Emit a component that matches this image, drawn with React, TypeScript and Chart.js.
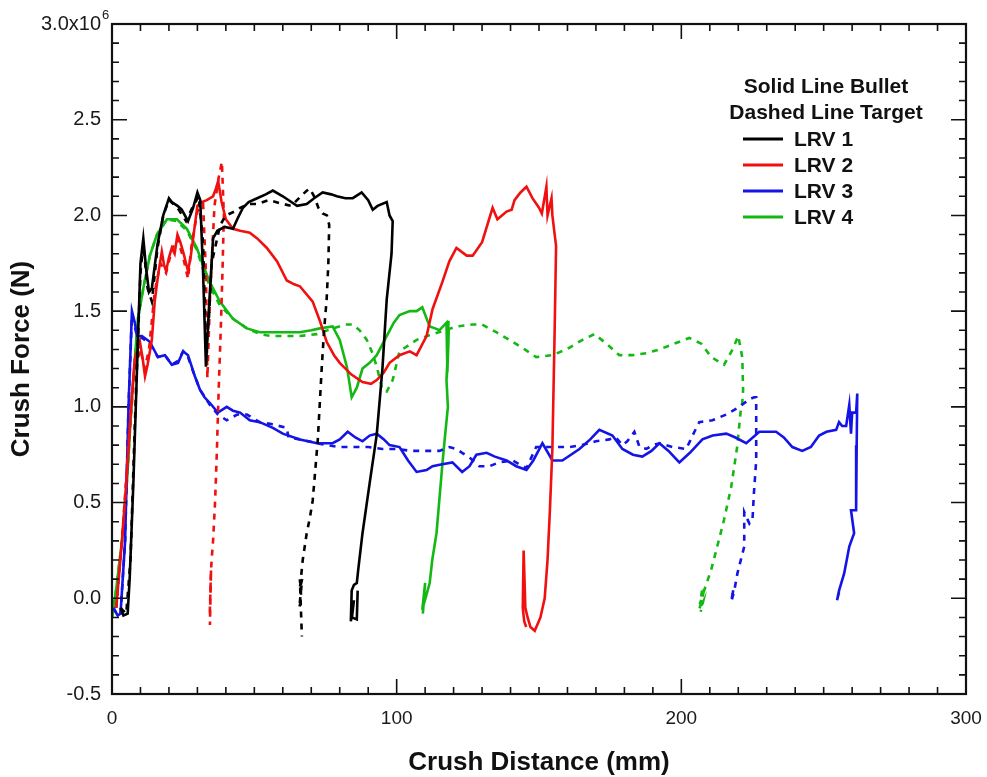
import React, { useEffect, useRef } from "react";
import { Chart, registerables } from "chart.js";

Chart.register(...registerables);

const FONT = "'Liberation Sans', Arial, Helvetica, sans-serif";

// Axis ticks (force in units of 10^6 N)
const xTicks = [0, 100, 200, 300];
const xTickLabels = ["0", "100", "200", "300"];
const yTicks = [-0.5, 0, 0.5, 1.0, 1.5, 2.0, 2.5, 3.0];
const yTickLabels = ["-0.5", "0.0", "0.5", "1.0", "1.5", "2.0", "2.5", "3.0x10"];
const yTopExponent = "6";

const legendTitles = ["Solid Line Bullet", "Dashed Line Target"];
const seriesNames = ["LRV 1", "LRV 2", "LRV 3", "LRV 4"];
const seriesColors = ["#000000", "#f01010", "#1414e6", "#14b814"];

// LRV 1
const lrv1BulletX = [3, 4, 5.5, 6.2, 7.5, 9, 10, 11, 12, 13, 14, 16, 18, 20, 21, 23, 24.5, 26.7, 28.5, 30, 31, 32, 33, 34, 35.5, 37, 39.6, 42.5, 44, 46, 48, 51, 54, 56.5, 60, 63, 65, 68.4, 71, 74, 77, 79, 82, 84.6, 87.7, 90, 91.6, 93.3, 96.5, 97.5, 98.6, 98.2, 96.5, 95, 93, 90.5, 88, 86.5, 86, 85, 84.2, 83.9, 85, 84.3, 86, 86.3];
const lrv1BulletY = [-0.05, -0.09, -0.08, 0.1, 0.6, 1.3, 1.75, 1.88, 1.72, 1.6, 1.62, 1.85, 2.0, 2.09, 2.07, 2.05, 2.03, 1.97, 2.04, 2.12, 2.08, 1.7, 1.21, 1.5, 1.88, 1.92, 1.94, 1.93, 1.98, 2.04, 2.07, 2.09, 2.11, 2.13, 2.1, 2.07, 2.05, 2.06, 2.09, 2.12, 2.11, 2.1, 2.09, 2.09, 2.12, 2.08, 2.03, 2.05, 2.07, 2.0, 1.97, 1.8, 1.56, 1.2, 0.855, 0.6, 0.34, 0.15, 0.08, 0.07, 0.04, -0.12, -0.01, -0.1, -0.11, 0.04];
const lrv1TargetX = [3, 5, 6.5, 8, 10, 11, 12.5, 14, 16, 18, 20, 23, 26, 28.5, 30.5, 32, 33, 34, 35, 36.5, 38, 40, 43, 45, 48, 51, 55, 60, 63, 65, 67, 68.5, 69.5, 71, 72.5, 74, 75.5, 76.3, 76, 75.4, 74.5, 73.7, 72.3, 71.3, 70.5, 69.5, 68.4, 67.5, 67, 66, 66.8, 65.8, 66.5, 66, 66.7];
const lrv1TargetY = [-0.05, -0.08, 0.2, 0.9, 1.7, 1.85, 1.62, 1.55, 1.83, 2.0, 2.08, 2.04, 1.97, 2.05, 2.1, 1.85, 1.3, 1.45, 1.75, 1.85, 1.95, 2.0, 2.02, 2.04, 2.06, 2.06, 2.08, 2.06, 2.05, 2.08, 2.11, 2.13, 2.14, 2.1, 2.04, 2.01, 2.0, 1.95, 1.75, 1.56, 1.4, 1.21, 0.83, 0.65, 0.51, 0.42, 0.34, 0.25, 0.2, 0.05, 0.1, -0.05, 0.0, 0.1, -0.2];

// LRV 2
const lrv2BulletX = [1.5, 3.5, 5, 6.5, 8, 9.8, 10.8, 11.6, 12.5, 14, 15, 16.3, 17.5, 18.3, 19, 20, 21, 22, 23, 24, 25, 26, 26.7, 27.6, 28.5, 30, 31.5, 33.3, 35.5, 36.5, 37.3, 38.5, 40, 42.5, 45, 48.4, 51, 54.4, 58, 61.4, 64, 66, 70.5, 73, 75.4, 78, 80, 84, 88, 91, 93, 95.5, 97.5, 101, 104.6, 107, 110.5, 112.6, 116, 118.5, 121, 124.6, 126.7, 130, 133.7, 135.4, 138.6, 140.4, 141.4, 143.5, 145.6, 147.7, 150, 151, 152.6, 153, 154.4, 154.7, 156, 155.5, 154.7, 153.8, 153, 152, 150.5, 148.5, 147, 146, 145.2, 144.6, 144.3, 144.8, 145.5];
const lrv2BulletY = [-0.05, 0.3, 0.6, 0.95, 1.25, 1.34, 1.25, 1.16, 1.22, 1.35, 1.55, 1.7, 1.81, 1.74, 1.71, 1.78, 1.83, 1.8, 1.9, 1.86, 1.81, 1.75, 1.71, 1.78, 1.88, 2.05, 2.07, 2.08, 2.1, 2.14, 2.18, 2.07, 1.98, 1.93, 1.92, 1.91, 1.88, 1.83, 1.76, 1.66, 1.64, 1.63, 1.55, 1.45, 1.34, 1.27, 1.23, 1.17, 1.13, 1.12, 1.14, 1.18, 1.23, 1.27, 1.29, 1.27, 1.37, 1.51, 1.65, 1.76, 1.83, 1.79, 1.79, 1.86, 2.04, 1.98, 2.02, 2.03, 2.08, 2.12, 2.15, 2.09, 2.04, 2.01, 2.15, 2.0, 2.09, 2.0, 1.84, 1.4, 0.78, 0.45, 0.2, 0.0, -0.1, -0.17, -0.15, -0.1, -0.05, 0.25, -0.05, -0.12, -0.15];
const lrv2TargetX = [1.5, 3.5, 6, 8, 10, 11.5, 13, 15, 17, 19, 21, 23, 25, 26.7, 28, 30, 32, 33, 33.5, 34.5, 36, 37.5, 38.6, 39.3, 38.8, 38.2, 37.5, 36.8, 36.2, 35.5, 35, 34.6, 34.4, 34.8, 34.3];
const lrv2TargetY = [-0.05, 0.3, 0.85, 1.2, 1.3, 1.2, 1.3, 1.6, 1.75, 1.7, 1.82, 1.88, 1.78, 1.67, 1.85, 2.02, 2.06, 1.7, 1.15, 1.6, 2.05, 2.2, 2.28, 2.0, 1.7, 1.4, 1.1, 0.75, 0.5, 0.3, 0.2, 0.1, -0.14, 0.15, -0.1];

// LRV 3
const lrv3BulletX = [0.5, 2, 3, 4.6, 5.8, 7, 8, 8.8, 10.5, 13.3, 16.1, 18.6, 21, 23.2, 25, 26.7, 29.1, 30.9, 32.5, 34.4, 37.2, 40.3, 42.5, 45, 48.4, 51.9, 56.5, 60, 66, 72, 77.5, 80, 82.8, 85.5, 88, 90.5, 93, 95.5, 97.5, 101, 104, 107, 110.5, 112.6, 116, 119.6, 123, 125.6, 128, 131.6, 134.5, 138.6, 142, 145.6, 148, 151.2, 154.7, 158.2, 164.2, 168, 171.2, 175.8, 179.3, 183, 186.3, 189.5, 192.3, 195.5, 199.3, 203, 207.4, 211, 215.8, 219, 222.8, 227.4, 233.3, 236, 239, 242.5, 245.5, 248.4, 251, 254.4, 255.4, 256.5, 257.9, 259, 259.6, 260, 261.4, 261.8, 261.6, 261.4, 259.6, 260.7, 259, 257.2, 255.4, 254.7, 255.4];
const lrv3BulletY = [-0.05, -0.09, -0.08, 0.3, 1.0, 1.5, 1.44, 1.37, 1.37, 1.34, 1.26, 1.27, 1.22, 1.23, 1.29, 1.27, 1.16, 1.09, 1.05, 1.02, 0.97, 1.0, 0.98, 0.97, 0.93, 0.92, 0.89, 0.86, 0.83, 0.81, 0.81, 0.83, 0.87, 0.84, 0.82, 0.85, 0.86, 0.83, 0.8, 0.79, 0.72, 0.66, 0.67, 0.69, 0.7, 0.71, 0.66, 0.69, 0.75, 0.76, 0.74, 0.72, 0.69, 0.67, 0.72, 0.81, 0.72, 0.72, 0.78, 0.83, 0.88, 0.85, 0.78, 0.75, 0.74, 0.77, 0.81, 0.77, 0.71, 0.76, 0.83, 0.85, 0.86, 0.84, 0.81, 0.87, 0.87, 0.84, 0.79, 0.77, 0.79, 0.85, 0.87, 0.88, 0.92, 0.9, 0.9, 1.01, 0.86, 0.97, 0.97, 1.07, 0.8, 0.46, 0.46, 0.34, 0.27, 0.13, 0.04, -0.01, 0.03];
const lrv3TargetX = [0.5, 2, 3, 4.6, 5.8, 7, 8.8, 10.5, 13.3, 16.1, 18.6, 21, 23.2, 25, 26.7, 29.1, 30.9, 34.4, 37.2, 40.3, 44, 47.4, 51.9, 56, 61.4, 62, 66, 72, 75.4, 80, 84.6, 90, 95, 100, 105, 110, 115, 118.6, 121, 123, 126, 129, 132.6, 136, 140.7, 143, 145.6, 149, 155, 160.7, 165, 170, 174.7, 177, 179.3, 181, 183.5, 185.3, 187.7, 190, 192.3, 197, 201.7, 203, 204.6, 206.3, 210.9, 215.8, 220.4, 223.9, 225.6, 226.3, 226.3, 225.5, 225, 223.9, 222.1, 222.1, 219.7, 218.6, 217.5, 218.3, 217.6];
const lrv3TargetY = [-0.05, -0.09, -0.08, 0.3, 1.0, 1.48, 1.37, 1.36, 1.33, 1.26, 1.27, 1.22, 1.24, 1.29, 1.26, 1.16, 1.09, 1.01, 0.96, 0.93, 0.96, 0.96, 0.92, 0.91, 0.89, 0.84, 0.83, 0.81, 0.8, 0.79, 0.79, 0.79, 0.78, 0.78, 0.77, 0.77, 0.77, 0.79, 0.78, 0.76, 0.73, 0.69, 0.69, 0.71, 0.72, 0.7, 0.68, 0.79, 0.79, 0.79, 0.8, 0.82, 0.83, 0.84, 0.8, 0.82, 0.87, 0.79, 0.78, 0.8, 0.81, 0.79, 0.78, 0.82, 0.87, 0.92, 0.93, 0.96, 1.0, 1.04, 1.05, 1.05, 0.72, 0.55, 0.41, 0.39, 0.45, 0.27, 0.13, 0.04, -0.02, 0.05, -0.02];

// LRV 4
const lrv4BulletX = [0, 1.5, 3.5, 5.3, 7, 9.1, 11, 13.3, 15.8, 19.3, 22.8, 26.3, 29.8, 32, 34.4, 37.9, 42.5, 47.4, 51.9, 56, 60, 66, 70, 73, 77.5, 80, 82.5, 84.2, 86, 88, 90.5, 93, 96.5, 99, 101, 104.6, 107, 109, 111.6, 113.5, 115, 117.5, 117.8, 118.2, 117.6, 118.3, 117.8, 118.2, 117.5, 118, 117, 116, 114, 112.5, 111.6, 110.5, 109, 110, 109.2];
const lrv4BulletY = [-0.1, 0.05, 0.3, 0.62, 1.05, 1.46, 1.62, 1.79, 1.9, 1.98, 1.98, 1.93, 1.83, 1.74, 1.65, 1.55, 1.46, 1.41, 1.39, 1.39, 1.39, 1.39, 1.4, 1.41, 1.42, 1.35, 1.21, 1.05, 1.1, 1.2, 1.23, 1.27, 1.37, 1.44, 1.48, 1.5, 1.5, 1.52, 1.42, 1.41, 1.4, 1.44, 1.2, 1.45, 1.15, 1.4, 1.18, 1.35, 1.14, 1.0, 0.85, 0.69, 0.34, 0.2, 0.08, 0.02, -0.06, 0.08, -0.08];
const lrv4TargetX = [0, 1.5, 3.5, 5.3, 7, 9.1, 11, 13.3, 15.8, 19.3, 22.8, 26.3, 29.8, 32, 34.4, 37.9, 42.5, 47.4, 52, 56, 60, 66, 72, 77.5, 82, 84.6, 87, 89.5, 91.5, 93, 95, 96.5, 98.6, 101, 104, 107, 112.6, 117, 121, 126.7, 130, 135, 140.7, 145, 149, 154.7, 159.6, 165.3, 169.5, 173.7, 178.2, 182.8, 187.7, 192.3, 197.5, 202.8, 207, 210.5, 215, 218, 220, 221.4, 221.7, 221.4, 221, 219.6, 217.5, 215, 212.6, 210.5, 208, 207.5, 206.5, 207.8, 206.3, 207.6, 206.8];
const lrv4TargetY = [-0.1, 0.05, 0.3, 0.62, 1.05, 1.46, 1.62, 1.79, 1.9, 1.98, 1.97, 1.92, 1.82, 1.72, 1.63, 1.53, 1.46, 1.41, 1.38, 1.37, 1.37, 1.37, 1.38, 1.41, 1.43, 1.43, 1.4, 1.35, 1.28, 1.21, 1.09, 1.08, 1.14, 1.29, 1.32, 1.35, 1.38, 1.4, 1.42, 1.43, 1.43, 1.39, 1.34, 1.3, 1.26, 1.27, 1.3, 1.35, 1.38, 1.33, 1.27, 1.27, 1.28, 1.3, 1.33, 1.36, 1.33, 1.26, 1.22, 1.3, 1.37, 1.26, 1.09, 1.02, 1.0, 0.79, 0.58, 0.41, 0.27, 0.15, 0.04, 0.06, -0.03, 0.03, -0.06, -0.02, -0.07];

const bulletX = [lrv1BulletX, lrv2BulletX, lrv3BulletX, lrv4BulletX];
const bulletY = [lrv1BulletY, lrv2BulletY, lrv3BulletY, lrv4BulletY];
const targetX = [lrv1TargetX, lrv2TargetX, lrv3TargetX, lrv4TargetX];
const targetY = [lrv1TargetY, lrv2TargetY, lrv3TargetY, lrv4TargetY];

const toPoints = (xs: number[], ys: number[]) => xs.map((x, i) => ({ x, y: ys[i] }));

const frameTicksPlugin = {
  id: "frameTicks",
  afterDatasetsDraw(chart: any) {
    const { ctx, chartArea: a, scales } = chart;
    const xs = scales.x;
    const ys = scales.y;
    ctx.save();
    ctx.strokeStyle = "#111";
    ctx.lineWidth = 1.6;
    ctx.beginPath();
    for (let i = 0; i <= 30; i++) {
      const px = xs.getPixelForValue(i * 10);
      const len = i % 10 === 0 ? 15 : 7;
      ctx.moveTo(px, a.bottom);
      ctx.lineTo(px, a.bottom - len);
      ctx.moveTo(px, a.top);
      ctx.lineTo(px, a.top + len);
    }
    for (let i = -5; i <= 30; i++) {
      const py = ys.getPixelForValue(i / 10);
      const len = i % 5 === 0 ? 15 : 7;
      ctx.moveTo(a.left, py);
      ctx.lineTo(a.left + len, py);
      ctx.moveTo(a.right, py);
      ctx.lineTo(a.right - len, py);
    }
    ctx.stroke();
    ctx.lineWidth = 2.2;
    ctx.strokeRect(a.left, a.top, a.right - a.left, a.bottom - a.top);

    // exponent of the top y tick label
    const topY = ys.getPixelForValue(yTicks[yTicks.length - 1]);
    ctx.fillStyle = "#1a1a1a";
    ctx.font = `13px ${FONT}`;
    ctx.textAlign = "left";
    ctx.textBaseline = "middle";
    ctx.fillText(yTopExponent, a.left - 10, topY - 9);
    ctx.restore();
  },
};

const legendPlugin = {
  id: "customLegend",
  afterDatasetsDraw(chart: any) {
    const { ctx } = chart;
    ctx.save();
    ctx.font = `bold 21px ${FONT}`;
    ctx.fillStyle = "#111";
    ctx.textBaseline = "middle";
    ctx.textAlign = "center";
    legendTitles.forEach((t, i) => ctx.fillText(t, 826, 87 + i * 26));
    ctx.textAlign = "left";
    seriesNames.forEach((name, i) => {
      const y = 139 + i * 26;
      ctx.strokeStyle = seriesColors[i];
      ctx.lineWidth = 3;
      ctx.beginPath();
      ctx.moveTo(743, y);
      ctx.lineTo(783, y);
      ctx.stroke();
      ctx.fillText(name, 794, y + 1);
    });
    ctx.restore();
  },
};

export default function App() {
  const canvasRef = useRef<HTMLCanvasElement | null>(null);

  useEffect(() => {
    if (!canvasRef.current) return;
    const datasets: any[] = [];
    seriesNames.forEach((name, i) => {
      datasets.push({
        label: name + " Bullet",
        data: toPoints(bulletX[i], bulletY[i]),
        borderColor: seriesColors[i],
        backgroundColor: seriesColors[i],
        borderWidth: 2.6,
        pointRadius: 0,
        showLine: true,
        fill: false,
        tension: 0,
      });
      datasets.push({
        label: name + " Target",
        data: toPoints(targetX[i], targetY[i]),
        borderColor: seriesColors[i],
        backgroundColor: seriesColors[i],
        borderWidth: 2.6,
        borderDash: [6, 6],
        pointRadius: 0,
        showLine: true,
        fill: false,
        tension: 0,
      });
    });

    const chart = new Chart(canvasRef.current, {
      type: "scatter",
      data: { datasets },
      options: {
        responsive: false,
        animation: false,
        layout: { padding: { top: 24, right: 21, left: 0, bottom: 0 } },
        plugins: { legend: { display: false }, tooltip: { enabled: false } },
        scales: {
          x: {
            type: "linear",
            position: "bottom",
            min: 0,
            max: 300,
            grid: { display: false, drawTicks: false },
            border: { display: false },
            afterBuildTicks: (scale: any) => {
              scale.ticks = xTicks.map((v) => ({ value: v }));
            },
            afterFit: (scale: any) => {
              scale.height = 83;
              scale.paddingLeft = 0;
              scale.paddingRight = 0;
            },
            ticks: {
              padding: 13,
              color: "#1a1a1a",
              font: { family: FONT, size: 19 },
              callback: (v: any) => xTickLabels[xTicks.indexOf(Number(v))] ?? "",
            },
            title: {
              display: true,
              text: "Crush Distance (mm)",
              color: "#111",
              font: { family: FONT, size: 26, weight: "bold", lineHeight: 1 },
              padding: { top: 0, bottom: 1 },
            },
          },
          y: {
            type: "linear",
            min: -0.5,
            max: 3.0,
            grid: { display: false, drawTicks: false },
            border: { display: false },
            afterBuildTicks: (scale: any) => {
              scale.ticks = yTicks.map((v) => ({ value: v }));
            },
            afterFit: (scale: any) => {
              scale.width = 112;
              scale.paddingTop = 0;
              scale.paddingBottom = 0;
            },
            ticks: {
              padding: 11,
              color: "#1a1a1a",
              font: { family: FONT, size: 20 },
              callback: (v: any) => yTickLabels[yTicks.indexOf(Number(v))] ?? "",
            },
            title: {
              display: true,
              text: "Crush Force (N)",
              color: "#111",
              font: { family: FONT, size: 26, weight: "bold", lineHeight: 1 },
              padding: { top: 9, bottom: 0 },
            },
          },
        },
      },
      plugins: [frameTicksPlugin, legendPlugin],
    } as any);
    return () => chart.destroy();
  }, []);

  return (
    <div style={{ position: "absolute", left: 0, top: 0, width: 987, height: 777, background: "#fff" }}>
      <canvas ref={canvasRef} width={987} height={777} style={{ display: "block" }} />
    </div>
  );
}
